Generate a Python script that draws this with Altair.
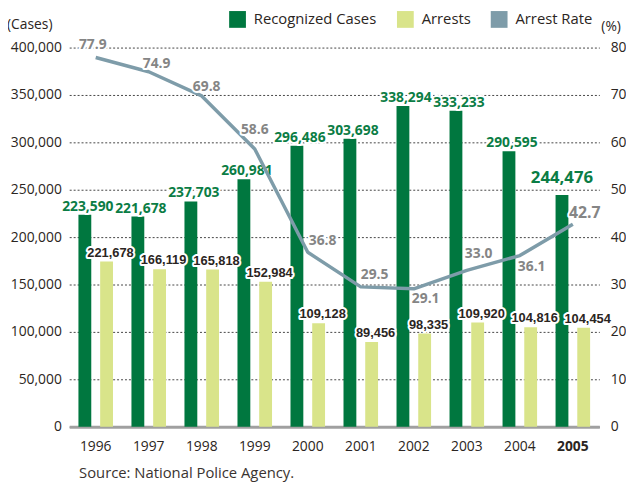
import altair as alt
import pandas as pd

years = ["1996", "1997", "1998", "1999", "2000", "2001", "2002", "2003", "2004", "2005"]
recognized = [223590, 221678, 237703, 260981, 296486, 303698, 338294, 333233, 290595, 244476]
arrests = [174300, 166119, 165818, 152984, 109128, 89456, 98335, 109920, 104816, 104454]
arrest_labels = ["221,678", "166,119", "165,818", "152,984", "109,128",
                 "89,456", "98,335", "109,920", "104,816", "104,454"]
arrest_rate = [77.9, 74.9, 69.8, 58.6, 36.8, 29.5, 29.1, 33.0, 36.1, 42.7]
series_names = ["Recognized Cases", "Arrests", "Arrest Rate"]
left_ticks = [0, 50000, 100000, 150000, 200000, 250000, 300000, 350000, 400000]
right_ticks = [0, 10, 20, 30, 40, 50, 60, 70, 80]
source_text = "Source: National Police Agency."

# colours / fonts (style)
DARK = "#00773f"
LIGHT = "#d9e48a"
RATE = "#7e9ca9"
GREEN_TXT = "#0b7d45"
INK = "#2b2522"
FONT = "Open Sans"
NARROW = "Liberation Sans"

# rate label placement (dx, dy) per year - layout only
rate_label_offsets = {
    "1996": (-3, -13), "1997": (8, -8), "1998": (5, -9), "1999": (0, -19),
    "2000": (15, -11), "2001": (14, -12), "2002": (12, 10), "2003": (12, -16),
    "2004": (12, 12), "2005": (12, -11),
}

df = pd.DataFrame({
    "year": years,
    "recognized": recognized,
    "rec_label": [f"{v:,}" for v in recognized],
    "arrests": arrests,
    "arr_label": arrest_labels,
    "rate": arrest_rate,
    "rate_label": [f"{v:.1f}" for v in arrest_rate],
    "s_rec": series_names[0],
    "s_arr": series_names[1],
})

base = alt.Chart(df)

# same x definition in every layer so the shared axis is kept
x_enc = alt.X(
    "year:O", sort=years, title=None,
    scale=alt.Scale(paddingInner=0, paddingOuter=0),
    axis=alt.Axis(
        labelAngle=0, labelFont=FONT, labelFontSize=14, labelColor=INK,
        labelPadding=13, ticks=False, domainColor="#a0a0a0", domainWidth=3,
        labelFontWeight=alt.condition("datum.label == '2005'", alt.value("bold"), alt.value("normal")),
    ),
)

yl_scale = alt.Scale(domain=[0, 400000], nice=False)
yr_scale = alt.Scale(domain=[0, 80], nice=False)

color_scale = alt.Scale(domain=series_names, range=[DARK, LIGHT, RATE])
legend = alt.Legend(
    orient="none", legendX=162, legendY=-37, direction="horizontal", title=None,
    symbolType="square", symbolSize=289, symbolStrokeWidth=0, symbolOpacity=1,
    labelFont=FONT, labelFontSize=15, labelColor=INK, labelOffset=8,
    columnPadding=20, padding=0,
)

left_axis = alt.Axis(
    values=left_ticks, format=",d", grid=True, gridDash=[2, 2], gridColor="#444",
    gridWidth=1, domain=False, ticks=False, labelPadding=8, labelFont=FONT,
    labelFontSize=14, labelColor=INK, title=None,
)
right_axis = alt.Axis(
    orient="right", values=right_ticks, grid=False, domain=False, ticks=False,
    labelPadding=11, labelFont=FONT, labelFontSize=14, labelColor=INK, title=None,
)

rec_bars = base.mark_bar(size=13, xOffset=-11).encode(
    x=x_enc,
    y=alt.Y("recognized:Q", scale=yl_scale, axis=left_axis),
    color=alt.Color("s_rec:N", scale=color_scale, legend=legend),
)
arr_bars = base.mark_bar(size=13, xOffset=11).encode(
    x=x_enc,
    y=alt.Y("arrests:Q", scale=yl_scale, axis=None),
    color=alt.Color("s_arr:N", scale=color_scale, legend=legend),
)


def text_pair(chart_base, field_y, scale, text_field, **mk):
    enc = dict(x=x_enc, y=alt.Y(field_y, scale=scale, axis=None), text=text_field)
    halo = chart_base.mark_text(stroke="white", strokeWidth=4, strokeJoin="round", **mk).encode(**enc)
    txt = chart_base.mark_text(**mk).encode(**enc)
    return [halo, txt]


rec_small = base.transform_filter("datum.year != '2005'")
rec_big = base.transform_filter("datum.year == '2005'")
layers = [rec_bars, arr_bars]
layers += text_pair(rec_small, "recognized:Q", yl_scale, "rec_label:N",
                    font=FONT, fontSize=14, fontWeight="bold", color=GREEN_TXT,
                    baseline="bottom", dx=-8, dy=-1)
layers += text_pair(rec_big, "recognized:Q", yl_scale, "rec_label:N",
                    font=FONT, fontSize=17, fontWeight="bold", color=GREEN_TXT,
                    baseline="bottom", dx=-11, dy=-8)
layers += text_pair(base, "arrests:Q", yl_scale, "arr_label:N",
                    font=NARROW, fontSize=13, fontWeight="bold", color=INK,
                    baseline="bottom", dx=15, dy=-2)

rate_line = base.mark_line(color=RATE, strokeWidth=3.5, strokeJoin="round").encode(
    x=x_enc,
    y=alt.Y("rate:Q", scale=yr_scale, axis=right_axis),
)
layers.append(rate_line)
for yr, (dx, dy) in rate_label_offsets.items():
    sub = base.transform_filter(f"datum.year == '{yr}'")
    size = 16 if yr == "2005" else 14
    layers += text_pair(sub, "rate:Q", yr_scale, "rate_label:N",
                        font=FONT, fontSize=size, fontWeight="bold", color="#858585",
                        baseline="middle", dx=dx, dy=dy)

deco = alt.Chart(pd.DataFrame({"t": ["(Cases)"]})).mark_text(
    align="left", baseline="middle", font=FONT, fontSize=14, color=INK
).encode(x=alt.value(-63), y=alt.value(-23), text="t:N")
deco_pct = alt.Chart(pd.DataFrame({"t": ["(%)"]})).mark_text(
    align="left", baseline="middle", font=FONT, fontSize=14, color=INK
).encode(x=alt.value(539), y=alt.value(-21), text="t:N")
deco_src = alt.Chart(pd.DataFrame({"t": [source_text]})).mark_text(
    align="left", baseline="middle", font=FONT, fontSize=15, color="#3a3330"
).encode(x=alt.value(10), y=alt.value(431), text="t:N")
layers += [deco, deco_pct, deco_src]

chart = alt.layer(*layers).resolve_scale(
    y="independent"
).properties(
    width=537, height=384,
    autosize="none",
    padding={"left": 62, "top": 37, "right": 27, "bottom": 56},
).configure_view(stroke=None)

chart.save("out.html", embed_options={"renderer": "svg", "actions": False})
